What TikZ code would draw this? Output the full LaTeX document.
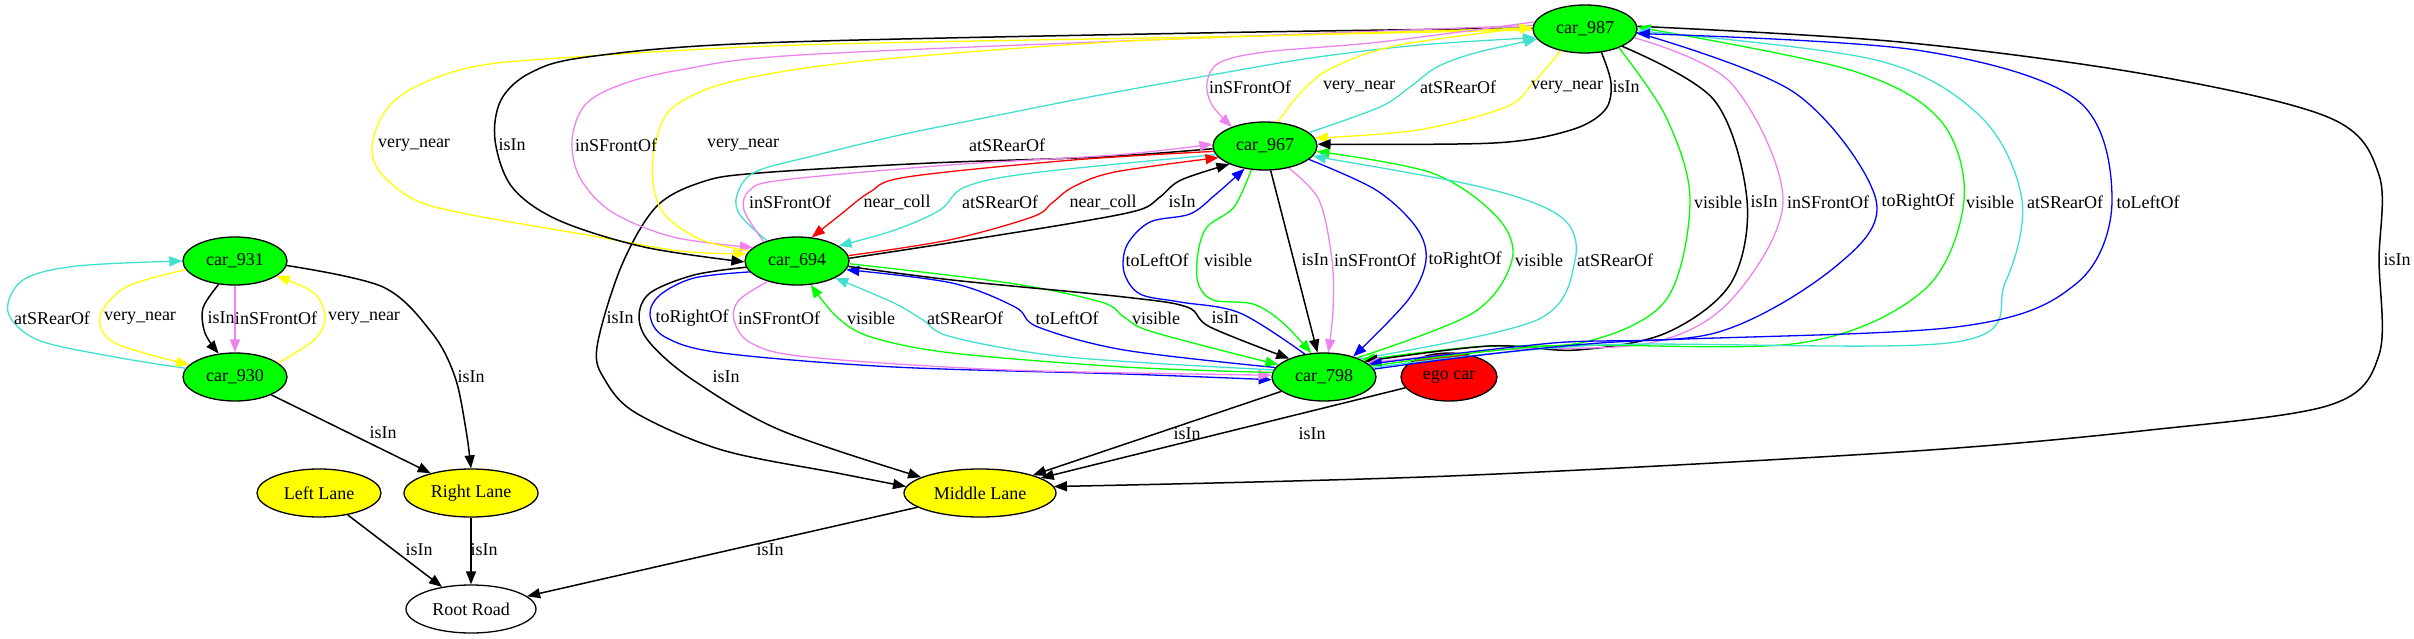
\documentclass[tikz,border=0pt]{standalone}
\usepackage{fontspec}
\setmainfont{Liberation Serif}
\usetikzlibrary{shapes.geometric,arrows.meta}
\definecolor{gvgreen}{HTML}{00FF00}
\definecolor{gvyellow}{HTML}{FFFF00}
\definecolor{gvviolet}{HTML}{EE82EE}
\definecolor{gvturq}{HTML}{40E0D0}
\definecolor{gvblue}{HTML}{0000FF}
\definecolor{gvred}{HTML}{FF0000}
\begin{document}
\begin{tikzpicture}[x=1pt,y=-1pt,
  every node/.style={font=\fontsize{18}{20}\selectfont},
  nd/.style={ellipse, draw=black, line width=1.3pt, inner sep=0pt, minimum height=48pt},
  car/.style={nd, fill=gvgreen, minimum width=104pt},
  lane/.style={nd, fill=gvyellow},
  lbl/.style={inner sep=0pt},
  e/.style={line width=1.3pt, -{Triangle[length=13pt,width=10pt]}},
  ek/.style={e, draw=black, line width=1.5pt},
  ey/.style={e, draw=gvyellow},
  eg/.style={e, draw=gvgreen},
  ev/.style={e, draw=gvviolet},
  et/.style={e, draw=gvturq},
  eb/.style={e, draw=gvblue},
  er/.style={e, draw=gvred},
  sm/.style={smooth, tension=0.55}
]
\useasboundingbox (0,0) rectangle (2414,639);

% nodes
\node[car] (c987) at (1585,29) {car\_987};
\node[car] (c967) at (1265,146) {car\_967};
\node[car] (c694) at (797,261) {car\_694};
\node[car] (c931) at (235,261) {car\_931};
\node[car] (c930) at (235,377) {car\_930};
\node[car] (c798) at (1324,377) {car\_798};
\node[nd, fill=gvred, minimum width=96pt] (ego) at (1449,377) {ego car};
\node[lane, minimum width=124pt] (ll) at (319,493) {Left Lane};
\node[lane, minimum width=134pt] (rl) at (471,493) {Right Lane};
\node[lane, minimum width=152pt] (ml) at (980,493) {Middle Lane};
\node[nd, fill=white, minimum width=130pt] (rr) at (471,609) {Root Road};

% left cluster
\draw[et] plot[sm] coordinates {(c930.170) (115,357) (38,340) (8,312) (23,280) (77,266) (c931.180)};
\draw[ey] plot[sm] coordinates {(c931.190) (126,287) (100,317) (115,343) (c930.165)};
\draw[ek] plot[sm] coordinates {(c931.235) (203,308) (205,333) (c930.125)};
\draw[ev] (c931.south) -- (c930.north);
\draw[ey] plot[sm] coordinates {(c930.18) (314,340) (325,318) (314,293) (c931.340)};
\draw[ek] plot[sm] coordinates {(c931.355) (383,287) (432,333) (455,377) (466,430) (rl.north)};
\draw[ek] (c930) -- (rl);
\draw[ek] (ll) -- (rr);
\draw[ek] (rl) -- (rr);
\draw[ek] (ml) -- (rr);

% to middle lane
\draw[ek] plot[sm] coordinates {(c967.183) (1100,157) (931,163) (759,173) (702,182) (656,207) (621,267) (597,347) (605,380) (636,413) (722,450) (837,473) (ml.175)};
\draw[ek] plot[sm] coordinates {(c694.187) (694,275) (650,293) (639,317) (650,343) (693,380) (780,430) (ml.165)};
\draw[ek] (c798) -- (ml);
\draw[ek] (ego) -- (ml);
\draw[ek] plot[sm] coordinates {(c987.3) (1900,42) (2150,75) (2330,118) (2379,175) (2379,260) (2379,355) (2330,405) (2150,430) (1900,452) (1450,476) (ml.5)};

% car_694 <-> car_987
\draw[ey] plot[sm] coordinates {(c987.181) (1200,37) (800,45) (560,58) (472,67) (415,87) (386,110) (372,145) (380,172) (415,200) (472,215) (587,235) (680,251) (c694.172)};
\draw[ek] plot[sm] coordinates {(c987.179) (1200,33) (759,43) (587,57) (530,73) (501,100) (495,140) (512,187) (558,220) (644,247) (c694.181)};
\draw[ev] plot[sm] coordinates {(c987.176) (1200,38) (800,55) (680,70) (620,85) (585,105) (572,140) (580,178) (612,212) (673,237) (c694.163)};
\draw[ey] plot[sm] coordinates {(c694.168) (702,240) (665,215) (653,183) (655,145) (670,110) (713,87) (780,72) (874,60) (1050,46) (1200,38) (c987.179)};
\draw[et] plot[sm] coordinates {(c694.146) (740,215) (737,195) (755,172) (817,155) (900,135) (989,117) (1100,95) (1200,77) (1311,58) (1420,45) (c987.190)};

% car_694 <-> car_967
\draw[ev] plot[sm] coordinates {(c694.150) (744,210) (750,190) (783,180) (949,165) (1115,155) (c967.178)};
\draw[er] plot[sm] coordinates {(c967.186) (1073,160) (907,177) (870,192) (840,215) (c694.58)};
\draw[et] plot[sm] coordinates {(c967.190) (1032,173) (965,187) (940,210) (895,230) (c694.20)};
\draw[er] plot[sm] coordinates {(c694.6) (949,240) (1032,217) (1052,203) (1073,187) (1115,172) (c967.194)};
\draw[ek] plot[sm] coordinates {(c694.3) (949,243) (1073,223) (1139,210) (1160,197) (1181,180) (c967.207)};

% car_694 <-> car_798
\draw[eb] plot[sm] coordinates {(c694.193) (694,278) (660,295) (650,315) (665,337) (722,353) (894,367) (1124,374) (c798.183)};
\draw[ev] plot[sm] coordinates {(c694.215) (739,300) (734,320) (751,343) (808,357) (1009,370) (c798.178)};
\draw[eg] plot[sm] coordinates {(c798.175) (1124,367) (952,353) (871,337) (837,317) (c694.300)};
\draw[et] plot[sm] coordinates {(c798.172) (1067,357) (952,337) (923,320) (894,303) (c694.336)};
\draw[eb] plot[sm] coordinates {(c798.169) (1124,350) (1038,327) (1015,307) (952,283) (c694.350)};
\draw[eg] plot[sm] coordinates {(c694.357) (1009,283) (1101,302) (1124,317) (1153,332) (c798.165)};
\draw[ek] plot[sm] coordinates {(c694.354) (952,280) (1124,297) (1187,307) (1210,327) (c798.152)};

% car_798 <-> car_967
\draw[eb] plot[sm] coordinates {(c798.130) (1240,313) (1180,302) (1140,294) (1124,272) (1127,245) (1150,222) (1190,214) (1215,195) (c967.228)};
\draw[eg] plot[sm] coordinates {(c967.240) (1234,207) (1207,227) (1198,253) (1198,283) (1213,300) (1253,304) (1282,322) (c798.118)};
\draw[ek] (c967.283) -- (c798.105);
\draw[ev] plot[sm] coordinates {(c967.317) (1319,200) (1332,260) (1333,310) (c798.80)};
\draw[eb] plot[sm] coordinates {(c967.343) (1376,190) (1416,227) (1426,260) (1408,300) (c798.35)};
\draw[eg] plot[sm] coordinates {(c798.30) (1473,313) (1512,260) (1497,217) (1432,173) (c967.354)};
\draw[et] plot[sm] coordinates {(c798.27) (1537,320) (1575,260) (1561,217) (1481,187) (c967.348)};

% car_798 <-> car_987
\draw[eg] plot[sm] coordinates {(c987.331) (1666,117) (1690,200) (1666,300) (1585,342) (1473,347) (c798.24)};
\draw[ek] plot[sm] coordinates {(c987.335) (1714,100) (1747,200) (1731,283) (1666,333) (1577,350) (1489,346) (c798.21)};
\draw[ev] plot[sm] coordinates {(c987.350) (1731,83) (1783,200) (1731,300) (1650,343) (1500,350) (c798.18)};
\draw[eb] plot[sm] coordinates {(c987.356) (1795,93) (1876,200) (1835,267) (1715,333) (1553,343) (c798.16)};
\draw[eg] plot[sm] coordinates {(c798.13) (1550,346) (1800,343) (1924,290) (1964,200) (1940,120) (1850,70) (c987.2)};
\draw[et] plot[sm] coordinates {(c798.11) (1600,345) (1956,342) (2005,283) (2022,200) (1981,117) (1876,60) (c987.358)};
\draw[eb] plot[sm] coordinates {(c798.9) (1600,343) (1956,327) (2077,283) (2112,200) (2077,100) (1916,50) (c987.355)};

% car_967 <-> car_987
\draw[ev] plot[sm] coordinates {(c987.172) (1380,42) (1265,52) (1219,63) (1207,83) (1212,105) (c967.150)};
\draw[ey] plot[sm] coordinates {(c967.62) (1303,90) (1334,67) (1399,45) (c987.178)};
\draw[et] plot[sm] coordinates {(c967.17) (1380,107) (1410,87) (1437,67) (1475,53) (c987.192)};
\draw[ey] plot[sm] coordinates {(c987.222) (1533,83) (1506,107) (1418,130) (c967.9)};
\draw[ek] plot[sm] coordinates {(c987.305) (1611,83) (1605,110) (1571,130) (1494,143) (c967.2)};

% labels
\node[lbl] (t1) at (52,318) {atSRearOf};
\node[lbl] (t2) at (140,318) {very\_near};
\node[lbl] (t3) at (221,318) {isIn};
\node[lbl] (t4) at (276,318) {inSFrontOf};
\node[lbl] (t5) at (364,318) {very\_near};
\node[lbl] (t6) at (471,377) {isIn};
\node[lbl] (t7) at (383,433) {isIn};
\node[lbl] (t8) at (419,550) {isIn};
\node[lbl] (t9) at (484,550) {isIn};
\node[lbl] (t10) at (770,550) {isIn};
\node[lbl] (t11) at (414,145) {very\_near};
\node[lbl] (t12) at (512,145) {isIn};
\node[lbl] (t13) at (616,145) {inSFrontOf};
\node[lbl] (t14) at (743,145) {very\_near};
\node[lbl] (t15) at (1007,145) {atSRearOf};
\node[lbl] (t16) at (790,202) {inSFrontOf};
\node[lbl] (t17) at (897,202) {near\_coll};
\node[lbl] (t18) at (1000,202) {atSRearOf};
\node[lbl] (t19) at (1103,202) {near\_coll};
\node[lbl] (t20) at (1182,202) {isIn};
\node[lbl] (t21) at (1718,202) {visible};
\node[lbl] (t22) at (1764,202) {isIn};
\node[lbl] (t23) at (1828,202) {inSFrontOf};
\node[lbl] (t24) at (1918,202) {toRightOf};
\node[lbl] (t25) at (1990,202) {visible};
\node[lbl] (t26) at (2065,202) {atSRearOf};
\node[lbl] (t27) at (2148,202) {toLeftOf};
\node[lbl] (t28) at (1157,260) {toLeftOf};
\node[lbl] (t29) at (1228,260) {visible};
\node[lbl] (t30) at (1315,260) {isIn};
\node[lbl] (t31) at (1375,260) {inSFrontOf};
\node[lbl] (t32) at (1465,260) {toRightOf};
\node[lbl] (t33) at (1539,260) {visible};
\node[lbl] (t34) at (1615,260) {atSRearOf};
\node[lbl] (t35) at (2397,260) {isIn};
\node[lbl] (t36) at (620,318) {isIn};
\node[lbl] (t37) at (692,318) {toRightOf};
\node[lbl] (t38) at (779,318) {inSFrontOf};
\node[lbl] (t39) at (871,318) {visible};
\node[lbl] (t40) at (965,318) {atSRearOf};
\node[lbl] (t41) at (1067,318) {toLeftOf};
\node[lbl] (t42) at (1156,318) {visible};
\node[lbl] (t43) at (1225,318) {isIn};
\node[lbl] (t44) at (726,377) {isIn};
\node[lbl] (t45) at (1187,434) {isIn};
\node[lbl] (t46) at (1312,434) {isIn};
\node[lbl] (t47) at (1250,87) {inSFrontOf};
\node[lbl] (t48) at (1359,87) {very\_near};
\node[lbl] (t49) at (1458,87) {atSRearOf};
\node[lbl] (t50) at (1567,87) {very\_near};
\node[lbl] (t51) at (1626,87) {isIn};
\end{tikzpicture}
\end{document}
